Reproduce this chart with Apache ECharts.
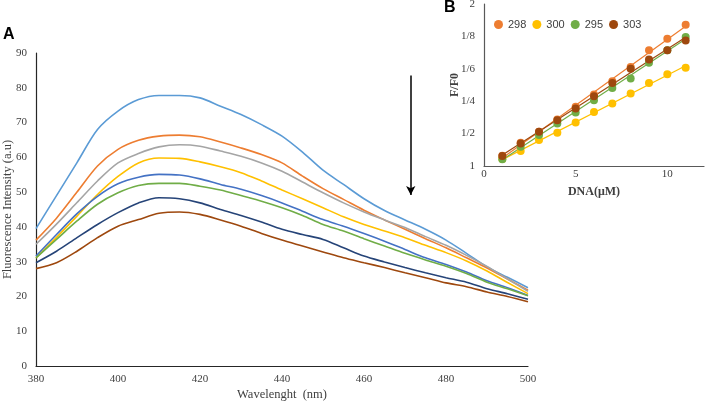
<!DOCTYPE html>
<html>
<head>
<meta charset="utf-8">
<script src="https://cdn.jsdelivr.net/npm/echarts@6/dist/echarts.min.js"></script>
<style>html,body{margin:0;padding:0;background:#fff}#c{width:708px;height:402px}</style>
</head>
<body>
<div id="c"></div>
<script>
// Panel A data
const wavelengths = [380,385,390,395,400,405,410,415,420,425,430,435,440,445,450,455,460,465,470,475,480,485,490,495,500];
const curve1 = [39.5,49.0,58.5,68.0,73.3,76.6,77.8,77.8,77.1,74.7,72.3,69.4,66.1,61.5,56.3,52.2,48.1,44.7,42.0,39.3,36.2,32.4,28.5,25.5,22.5];
const curve2 = [36.2,42.5,50.0,57.5,62.3,64.9,66.1,66.4,65.9,64.4,62.7,60.8,58.4,54.6,51.0,47.9,44.8,42.0,39.3,36.6,34.0,31.1,28.2,25.0,21.8];
const curve3 = [35.0,40.8,47.0,53.2,58.4,61.1,63.0,63.6,63.2,61.8,60.3,58.4,56.0,52.9,49.8,46.9,44.3,42.0,39.8,37.2,34.7,31.8,28.6,25.0,21.5];
const curve4 = [31.1,37.0,43.1,49.3,54.5,58.4,59.8,59.7,58.7,57.3,55.6,53.2,50.6,48.1,45.5,42.9,40.7,38.8,36.9,34.7,32.6,30.2,27.3,24.0,20.8];
const curve5 = [31.6,37.8,43.8,48.8,52.4,54.3,55.1,54.9,53.8,52.2,50.8,49.0,46.9,44.5,42.1,40.2,38.1,35.9,33.5,31.1,29.2,27.0,24.5,22.5,20.3];
const curve6 = [31.1,36.4,41.7,46.5,49.8,51.9,52.5,52.5,51.7,50.6,49.0,47.4,45.5,43.3,40.7,38.8,36.6,34.5,32.4,30.5,28.7,26.6,24.1,22.2,20.2];
const curve7 = [29.7,33.0,36.9,40.7,44.1,46.9,48.4,48.1,46.9,45.0,43.3,41.4,39.3,37.8,36.4,34.0,31.6,29.9,28.3,26.8,25.4,24.1,22.2,20.8,19.2];
const curve8 = [28.0,29.7,33.0,36.9,40.2,42.1,43.9,44.3,43.6,42.0,40.2,38.1,36.2,34.5,32.8,31.1,29.7,28.3,26.8,25.4,23.9,22.8,21.3,20.0,18.5];
const curveColors = ['#5B9BD5','#ED7D31','#A5A5A5','#FFC000','#4472C4','#70AD47','#264478','#9E480E'];
const xTicksA = [380,400,420,440,460,480,500];

// Panel B data
const dna = [1,2,3,4,5,6,7,8,9,10,11];
const s298 = [1.063,1.143,1.211,1.287,1.365,1.441,1.523,1.611,1.714,1.786,1.872];
const s300 = [1.043,1.092,1.160,1.205,1.269,1.334,1.386,1.447,1.513,1.566,1.607];
const s295 = [1.041,1.119,1.191,1.263,1.330,1.406,1.482,1.540,1.638,1.714,1.796];
const s303 = [1.062,1.139,1.211,1.283,1.355,1.431,1.513,1.601,1.657,1.714,1.775];
const seriesNamesB = ['298','300','295','303'];
const yTickLabelsB = {'1':'1','1.2':'1/2','1.4':'1/4','1.6':'1/6','1.8':'1/8','2':'2'};

const serif = 'Liberation Serif';
const curves = [curve1,curve2,curve3,curve4,curve5,curve6,curve7,curve8];
const seriesB = [s298,s300,s295,s303];
const colorsB = ['#ED7D31','#FFC000','#70AD47','#9E480E'];

function fit(xs, ys){
  const n = xs.length; let sx=0,sy=0,sxx=0,sxy=0;
  for(let i=0;i<n;i++){sx+=xs[i];sy+=ys[i];sxx+=xs[i]*xs[i];sxy+=xs[i]*ys[i];}
  const b=(n*sxy-sx*sy)/(n*sxx-sx*sx); const a=(sy-b*sx)/n;
  return [[xs[0],a+b*xs[0]],[xs[n-1],a+b*xs[n-1]]];
}

const series = [];
curves.forEach((c,i)=>{
  const s = {
    type:'line', xAxisIndex:0, yAxisIndex:0,
    data: wavelengths.map((w,j)=>[w,c[j]]),
    showSymbol:false, smooth:0.3,
    lineStyle:{color:curveColors[i], width:1.6},
    itemStyle:{color:curveColors[i]},
    silent:true, z:2+i
  };
  if(i===0){
    s.markLine = {
      silent:true, symbol:['none','arrow'], symbolSize:[7,9],
      label:{show:false},
      lineStyle:{color:'#000', width:1.5, type:'solid'},
      data:[[{coord:[471.4,83.5]},{coord:[471.4,49.2]}]]
    };
  }
  series.push(s);
});
seriesB.forEach((d,i)=>{
  series.push({
    type:'line', xAxisIndex:1, yAxisIndex:1,
    data: fit(dna,d), showSymbol:false, silent:true,
    lineStyle:{color:colorsB[i], width:1.2}, z:20
  });
  series.push({
    type:'scatter', name:seriesNamesB[i], xAxisIndex:1, yAxisIndex:1,
    data: dna.map((x,j)=>[x,d[j]]), symbolSize:8,
    itemStyle:{color:colorsB[i], opacity:1}, z:21
  });
});

const chart = echarts.init(document.getElementById('c'), null, {renderer:'canvas'});
chart.setOption({
  animation:false,
  backgroundColor:'#fff',
  legend:{
    data:seriesNamesB, left:489, top:14, icon:'circle', itemWidth:9, itemHeight:9, itemGap:6,
    textStyle:{fontFamily:'Liberation Sans', fontSize:11, color:'#404040'},
    selectedMode:false
  },
  grid:[
    {left:36, right:180, top:53, bottom:36, containLabel:false, outerBoundsMode:'none'},
    {left:484, right:4, top:4, bottom:236, containLabel:false, outerBoundsMode:'none'}
  ],
  xAxis:[
    {type:'value', gridIndex:0, min:380, max:500, interval:20,
     name:'Wavelenght  (nm)', nameLocation:'middle', nameGap:22, nameMoveOverlap:false,
     nameTextStyle:{fontFamily:serif, fontSize:12.5, color:'#404040'},
     axisLine:{lineStyle:{color:'#262626', width:1.2}}, axisTick:{show:false},
     axisLabel:{fontFamily:serif, fontSize:11, color:'#404040', margin:8,
       formatter:v=>xTicksA.indexOf(v)>=0?String(v):''},
     splitLine:{show:false}},
    {type:'value', gridIndex:1, min:0, max:12, interval:5,
     name:'DNA(μM)', nameLocation:'middle', nameGap:20, nameMoveOverlap:false,
     nameTextStyle:{fontFamily:serif, fontSize:12, fontWeight:'bold', color:'#404040'},
     axisLine:{lineStyle:{color:'#595959', width:1.2}}, axisTick:{show:false},
     axisLabel:{fontFamily:serif, fontSize:11, color:'#404040', margin:3,
       formatter:v=>(v%5===0)?String(v):''},
     splitLine:{show:false}},
  ],
  yAxis:[
    {type:'value', gridIndex:0, min:0, max:90, interval:10,
     name:'Fluorescence Intensity (a.u)', nameLocation:'middle', nameGap:22, nameMoveOverlap:false,
     nameTextStyle:{fontFamily:serif, fontSize:12.5, color:'#404040'},
     axisLine:{show:true, lineStyle:{color:'#262626', width:1.2}}, axisTick:{show:false},
     axisLabel:{fontFamily:serif, fontSize:11, color:'#404040', margin:9},
     splitLine:{show:false}},
    {type:'value', gridIndex:1, min:1, max:2, interval:0.2,
     name:'F/F0', nameLocation:'middle', nameGap:23, nameMoveOverlap:false,
     nameTextStyle:{fontFamily:serif, fontSize:12, fontWeight:'bold', color:'#404040'},
     axisLine:{show:true, lineStyle:{color:'#595959', width:1.2}}, axisTick:{show:false},
     axisLabel:{fontFamily:serif, fontSize:11, color:'#404040', margin:9,
       formatter:v=>{const k=String(Math.round(v*10)/10); return yTickLabelsB[k]!==undefined?yTickLabelsB[k]:'';}},
     splitLine:{show:false}}
  ],
  graphic:[
    {type:'text', left:3, top:27, style:{text:'A', font:'bold 16px "Liberation Sans"', fill:'#000'}},
    {type:'text', left:444, top:0, style:{text:'B', font:'bold 16px "Liberation Sans"', fill:'#000'}}
  ],
  series:series
});
</script>
</body>
</html>
